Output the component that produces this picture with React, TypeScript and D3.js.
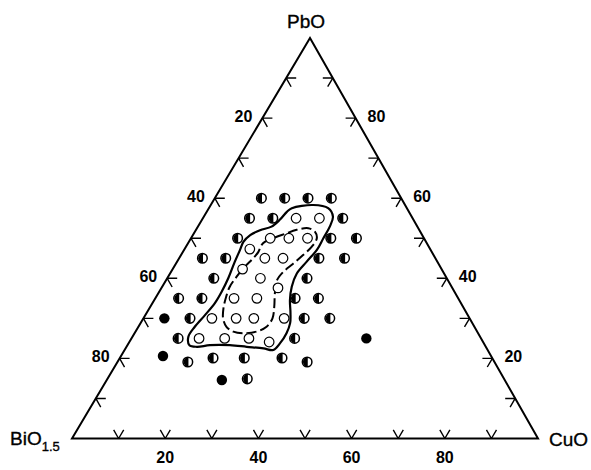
import React from "react";
import * as d3 from "d3";

const W = 591;
const H = 470;

// ternary axis ticks (mol %)
const tickValues = [10, 20, 30, 40, 50, 60, 70, 80, 90];
const labelValues = [20, 40, 60, 80];

// Compositions as [PbO, CuO]; BiO1.5 = 100 - PbO - CuO
const filledPts: [number, number][] = [
  [30, 4.5],
  [20.6, 9],
  [14.6, 24.7],
  [25, 50.4],
];

const halfPts: [number, number][] = [
  [60, 10], [60, 15], [60, 20], [60, 25],
  [55, 10], [55, 15], [55, 30],
  [50, 10], [50, 30], [50, 35.5],
  [45, 5], [45, 10], [45, 30], [45, 35.5],
  [40, 10], [40, 30],
  [35, 5], [35, 10], [35, 30], [35, 35],
  [30, 10], [30, 34.5], [30, 40],
  [25, 10], [25, 35],
  [19.1, 15.1], [20.1, 20], [20.1, 26.7], [20.1, 34.8], [19.1, 40.7],
  [14.9, 30],
];

const openPts: [number, number][] = [
  [55, 20], [55, 25],
  [50, 17], [50, 21], [50, 25],
  [47.3, 14],
  [45, 18.4], [45, 22.3],
  [42.3, 15],
  [40, 20],
  [37.6, 25],
  [35, 16.9], [35, 21.8],
  [30, 14.7], [30, 19.9], [30, 23.7], [30, 30.2],
  [25, 14.5], [25, 20], [25, 25.2],
  [24.1, 30],
];

const outerContour: [number, number][] = [
  [57.5, 17.8], [58.3, 22.0], [57.5, 25.6], [55.4, 27.7], [52.9, 28.3],
  [50.0, 28.4], [47.1, 28.5], [44.1, 27.8], [41.2, 27.2], [37.9, 27.8],
  [34.6, 29.1], [31.3, 30.9], [28.8, 32.1], [26.3, 32.6], [23.8, 32.5],
  [22.1, 31.9], [22.5, 29.6], [22.9, 25.8], [23.3, 22.0], [23.3, 17.7],
  [22.9, 15.1], [23.3, 13.3], [25.4, 12.0], [27.9, 12.1], [30.8, 12.8],
  [33.8, 13.4], [36.7, 13.4], [40.0, 13.1], [44.1, 12.4], [47.1, 12.0],
  [49.1, 11.7], [50.8, 12.3], [52.0, 13.8], [52.9, 15.8], [54.6, 16.7],
  [56.6, 17.2],
];

const innerContour: [number, number][] = [
  [49.1, 16.3], [50.2, 17.9], [51.1, 19.6], [52.1, 21.6], [52.5, 23.9],
  [51.6, 25.8], [50.0, 27.0], [47.9, 27.0], [45.8, 26.2], [43.7, 25.2],
  [41.6, 24.1], [39.6, 23.8], [36.3, 25.0], [32.9, 26.6], [30.0, 27.7],
  [27.9, 27.5], [26.7, 26.0], [26.3, 23.3], [26.7, 21.0], [27.9, 18.9],
  [30.0, 17.1], [32.5, 15.9], [35.4, 15.0], [37.9, 14.5], [40.4, 14.7],
  [42.9, 15.2], [45.0, 15.9], [46.6, 16.2], [48.3, 16.0],
];

const FONT = "'Liberation Sans', Arial, Helvetica, sans-serif";

export default function App() {
  const yScale = d3.scaleLinear().domain([0, 100]).range([438.5, 38]);
  const cuScale = d3.scaleLinear().domain([0, 100]).range([72, 538]);
  const pbShift = d3.scaleLinear().domain([0, 100]).range([0, 238]);
  const proj = (pb: number, cu: number): [number, number] => [
    cuScale(cu) + pbShift(pb),
    yScale(pb),
  ];

  const A = proj(0, 0); // BiO1.5
  const B = proj(0, 100); // CuO
  const C = proj(100, 0); // PbO

  const TL = 10;
  const arm = (pb: number, cu: number, dpb: number, dcu: number) => {
    const p = proj(pb, cu);
    const q = proj(pb + dpb, cu + dcu);
    const dx = q[0] - p[0];
    const dy = q[1] - p[1];
    const len = Math.hypot(dx, dy);
    return `M${p[0] + (dx / len) * TL},${p[1] + (dy / len) * TL}L${p[0]},${p[1]}`;
  };

  const tickPaths: string[] = [];
  tickValues.forEach((t) => {
    // bottom edge (CuO axis)
    tickPaths.push(arm(0, t, 1, 0) + arm(0, t, 1, -1));
    // left edge (BiO axis)
    tickPaths.push(arm(t, 0, 0, 1) + arm(t, 0, -1, 1));
    // right edge (PbO axis)
    tickPaths.push(arm(t, 100 - t, 0, -1) + arm(t, 100 - t, -1, 0));
  });

  const line = d3
    .line<[number, number]>()
    .x((d) => proj(d[0], d[1])[0])
    .y((d) => proj(d[0], d[1])[1])
    .curve(d3.curveCatmullRomClosed.alpha(0.5));

  const r = 4.8;
  const halfPath = (cx: number, cy: number) =>
    `M${cx + 0.6},${cy - r}A${r},${r} 0 0 0 ${cx + 0.6},${cy + r}Z`;

  return (
    <svg
      width={W}
      height={H}
      viewBox={`0 0 ${W} ${H}`}
      style={{ position: "absolute", left: 0, top: 0, background: "#fff" }}
    >
      <rect width={W} height={H} fill="#fff" />
      <path
        d={`M${A[0]},${A[1]}L${B[0]},${B[1]}L${C[0]},${C[1]}Z`}
        fill="none"
        stroke="#000"
        strokeWidth={2}
        strokeLinejoin="miter"
      />
      <path d={tickPaths.join("")} fill="none" stroke="#000" strokeWidth={1.4} />

      {/* contours */}
      <path d={line(outerContour) || ""} fill="none" stroke="#000" strokeWidth={2.2} />
      <path
        d={line(innerContour) || ""}
        fill="none"
        stroke="#000"
        strokeWidth={2}
        strokeDasharray="10 4"
      />

      {/* points */}
      {openPts.map((d, i) => {
        const [x, y] = proj(d[0], d[1]);
        return <circle key={"o" + i} cx={x} cy={y} r={r} fill="#fff" stroke="#000" strokeWidth={1.2} />;
      })}
      {halfPts.map((d, i) => {
        const [x, y] = proj(d[0], d[1]);
        return (
          <g key={"h" + i}>
            <circle cx={x} cy={y} r={r} fill="#fff" stroke="#000" strokeWidth={1.5} />
            <path d={halfPath(x, y)} fill="#000" />
          </g>
        );
      })}
      {filledPts.map((d, i) => {
        const [x, y] = proj(d[0], d[1]);
        return <circle key={"f" + i} cx={x} cy={y} r={5.2} fill="#000" />;
      })}

      {/* axis labels */}
      <g fontFamily={FONT} fill="#000" fontSize={16} fontWeight="bold">
        {labelValues.map((v) => {
          const [x] = proj(0, v);
          return (
            <text key={"b" + v} x={x} y={463} textAnchor="middle">
              {v}
            </text>
          );
        })}
        {labelValues.map((v) => {
          const [x, y] = proj(100 - v, 0);
          return (
            <text key={"l" + v} x={x - 10} y={y + 4} textAnchor="end">
              {v}
            </text>
          );
        })}
        {labelValues.map((v) => {
          const [x, y] = proj(v, 100 - v);
          return (
            <text key={"r" + v} x={x + 12} y={y + 4} textAnchor="start">
              {v}
            </text>
          );
        })}
      </g>

      <g fontFamily={FONT} fill="#000" stroke="#000" strokeWidth={0.35}>
        <text x={C[0] - 4} y={28} fontSize={19} textAnchor="middle">
          PbO
        </text>
        <text x={10} y={445} fontSize={19}>
          BiO
          <tspan fontSize={13} dy={6}>
            1.5
          </tspan>
        </text>
        <text x={549} y={446} fontSize={19}>
          CuO
        </text>
      </g>
    </svg>
  );
}
